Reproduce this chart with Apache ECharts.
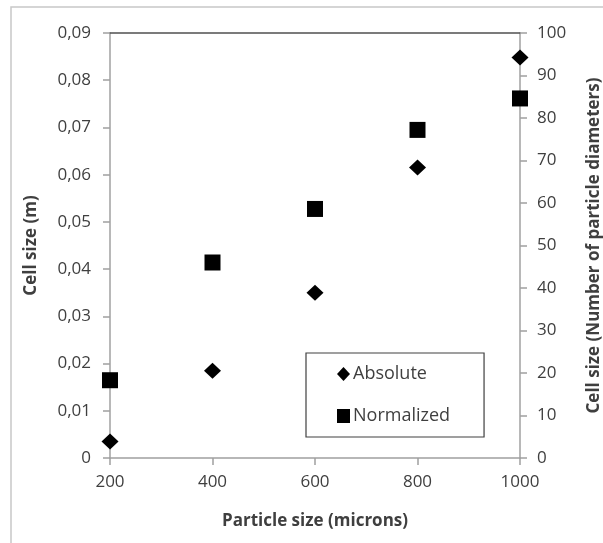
<!DOCTYPE html>
<html>
<head>
<meta charset="utf-8">
<script src="https://cdn.jsdelivr.net/npm/echarts@6/dist/echarts.min.js"></script>
<style>
  html, body { margin: 0; padding: 0; background: #fff; }
  #chart { width: 603px; height: 543px; }
</style>
</head>
<body>
<div id="chart"></div>
<script>
// Particle sizes (microns)
const particleSizes = [200, 400, 600, 800, 1000];
// Absolute cell size (m), left axis
const absoluteCell = [0.0035, 0.0185, 0.035, 0.0615, 0.0848];
// Cell size in particle diameters, right axis
const normalizedCell = [18.3, 46.0, 58.6, 77.2, 84.6];

const textColor = '#3f3f3f';
const font = 'Open Sans';

const chart = echarts.init(document.getElementById('chart'));

const axisLabelBase = { color: textColor, fontFamily: font, fontSize: 17 };
const nameBase = { color: textColor, fontFamily: font, fontSize: 17, fontWeight: 'bold' };

chart.setOption({
  animation: false,
  backgroundColor: '#fff',
  grid: { left: 110, right: 83, top: 33, bottom: 85, containLabel: false, outerBoundsMode: 'none' },
  graphic: [{
    type: 'rect',
    shape: { x: 11, y: 7, width: 800, height: 800 },
    style: { fill: 'none', stroke: '#c8c8c8', lineWidth: 1.5 },
    silent: true,
    z: -1
  }],
  legend: {
    left: 306,
    top: 353,
    orient: 'vertical',
    backgroundColor: '#fff',
    borderColor: '#404040',
    borderWidth: 1.2,
    borderRadius: 0,
    padding: [12, 34, 12, 31],
    itemWidth: 13,
    itemHeight: 14,
    itemGap: 24,
    textStyle: { color: textColor, fontFamily: font, fontSize: 18, padding: [0, 0, 0, -2] },
    data: ['Absolute', 'Normalized']
  },
  xAxis: [{
    type: 'value',
    min: 200,
    max: 1000,
    interval: 200,
    name: 'Particle size (microns)',
    nameLocation: 'middle',
    nameGap: 55,
    nameTextStyle: nameBase,
    axisLine: { show: true, onZero: false, lineStyle: { color: '#a0a0a0', width: 1.5 } },
    axisTick: { show: true, length: 7, lineStyle: { color: '#a0a0a0', width: 1.5 } },
    axisLabel: Object.assign({ margin: 16, formatter: v => String(v) }, axisLabelBase),
    splitLine: { show: false }
  }, {
    type: 'value',
    position: 'top',
    min: 200,
    max: 1000,
    axisLine: { show: true, onZero: false, lineStyle: { color: '#505050', width: 1.5 } },
    axisTick: { show: false },
    axisLabel: { show: false },
    splitLine: { show: false }
  }],
  yAxis: [{
    type: 'value',
    min: 0,
    max: 0.09,
    interval: 0.01,
    name: 'Cell size (m)',
    nameLocation: 'middle',
    nameGap: 70,
    nameTextStyle: nameBase,
    axisLine: { show: true, onZero: false, lineStyle: { color: '#a0a0a0', width: 1.5 } },
    axisTick: { show: true, length: 7, lineStyle: { color: '#a0a0a0', width: 1.5 } },
    axisLabel: Object.assign({
      margin: 19,
      formatter: v => (v === 0 ? '0' : v.toFixed(2).replace('.', ','))
    }, axisLabelBase),
    splitLine: { show: false }
  }, {
    type: 'value',
    position: 'right',
    min: 0,
    max: 100,
    interval: 10,
    name: 'Cell size (Number of particle diameters)',
    nameLocation: 'middle',
    nameGap: 66,
    nameRotate: 90,
    nameTextStyle: nameBase,
    axisLine: { show: true, onZero: false, lineStyle: { color: '#a0a0a0', width: 1.5 } },
    axisTick: { show: true, length: 7, lineStyle: { color: '#a0a0a0', width: 1.5 } },
    axisLabel: Object.assign({ margin: 17 }, axisLabelBase),
    splitLine: { show: false }
  }],
  series: [{
    name: 'Absolute',
    type: 'scatter',
    xAxisIndex: 0,
    yAxisIndex: 0,
    symbol: 'diamond',
    symbolSize: [17, 16],
    itemStyle: { color: '#000', opacity: 1 },
    data: particleSizes.map((x, i) => [x, absoluteCell[i]]),
    z: 3
  }, {
    name: 'Normalized',
    type: 'scatter',
    xAxisIndex: 0,
    yAxisIndex: 1,
    symbol: 'rect',
    symbolSize: 16,
    itemStyle: { color: '#000', opacity: 1 },
    data: particleSizes.map((x, i) => [x, normalizedCell[i]]),
    z: 3
  }]
});
</script>
</body>
</html>
